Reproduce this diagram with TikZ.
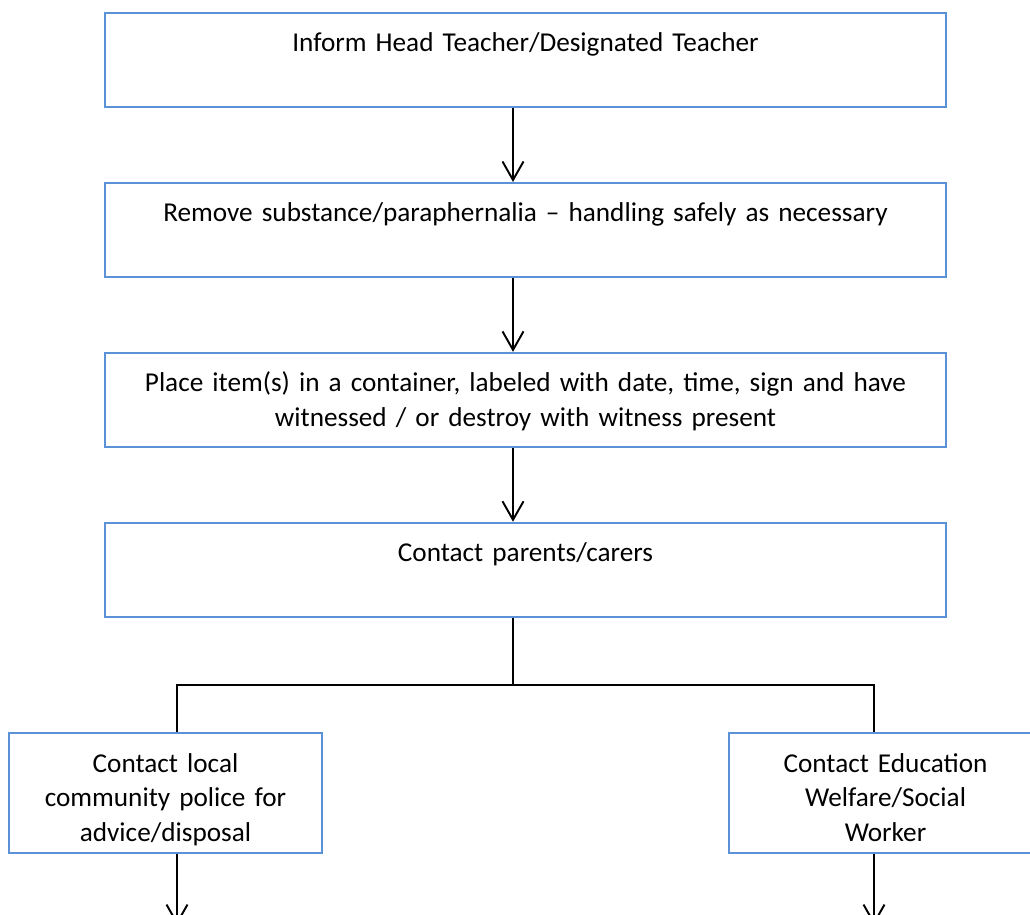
\documentclass[tikz,border=0pt]{standalone}
\usepackage{fontspec}
\setmainfont{Carlito}
\usetikzlibrary{positioning, arrows.meta}
\definecolor{boxblue}{RGB}{91,145,214}
\tikzstyle{stepbox} = [rectangle, 
minimum width=16.82cm, 
minimum height=1.88cm,
text width=16.4cm,
align=center,
inner ysep=0pt,
text height=0.78cm,
text depth=1.1cm,
line width=1.1pt,
draw=boxblue, 
font=\fontsize{15.5}{19.9}\selectfont]
\tikzstyle{sidebox} = [stepbox, 
minimum width=6.26cm, 
minimum height=2.4cm,
text width=6cm,
text depth=1.62cm]
\tikzstyle{coord} = [coordinate]
\tikzstyle{line} = [line width=1.1pt, black]
\tikzstyle{arrow} = [line, -{Straight Barb[length=0.37cm, width=0.42cm]}]

\begin{document}
\begin{tikzpicture}[x=0.02cm, y=-0.02cm]
		\useasboundingbox (0,0) rectangle (1030,915);
		\clip (0,0) rectangle (1030,915);
		\node (inform) [stepbox] at (525.5,60) {Inform Head Teacher/Designated Teacher};
		\node (remove) [stepbox, below=1.48cm of inform] {Remove substance/paraphernalia -- handling safely as necessary};
		\node (place) [stepbox, below=1.48cm of remove] {Place item(s) in a container, labeled with date, time, sign and have\\ witnessed / or destroy with witness present};
		\node (parents) [stepbox, below=1.48cm of place] {Contact parents/carers};
		\node (police) [sidebox] at (165.5,793) {Contact local\\ community police for\\ advice/disposal};
		\node (welfare) [sidebox] at (885.5,793) {Contact Education\\ Welfare/Social\\ Worker};
	
		\node (spine) [coord] at (513,0) {};
		\node (fork) [coord] at (513,685) {};
		\node (lj) [coord] at (177,685) {};
		\node (rj) [coord] at (874,685) {};
		\node (lend) [coord] at (177,925) {};
		\node (rend) [coord] at (874,925) {};
	
		\draw [arrow] (inform.south -| spine) -- (remove.north -| spine);
		\draw [arrow] (remove.south -| spine) -- (place.north -| spine);
		\draw [arrow] (place.south -| spine) -- (parents.north -| spine);
		\draw [line] (parents.south -| spine) -- (fork);
		\draw [line] (lj |- police.north) -- (lj) -- (rj) -- (rj |- welfare.north);
		\draw [arrow] (police.south -| lj) -- (lend);
		\draw [arrow] (welfare.south -| rj) -- (rend);
	\end{tikzpicture}
\end{document}
